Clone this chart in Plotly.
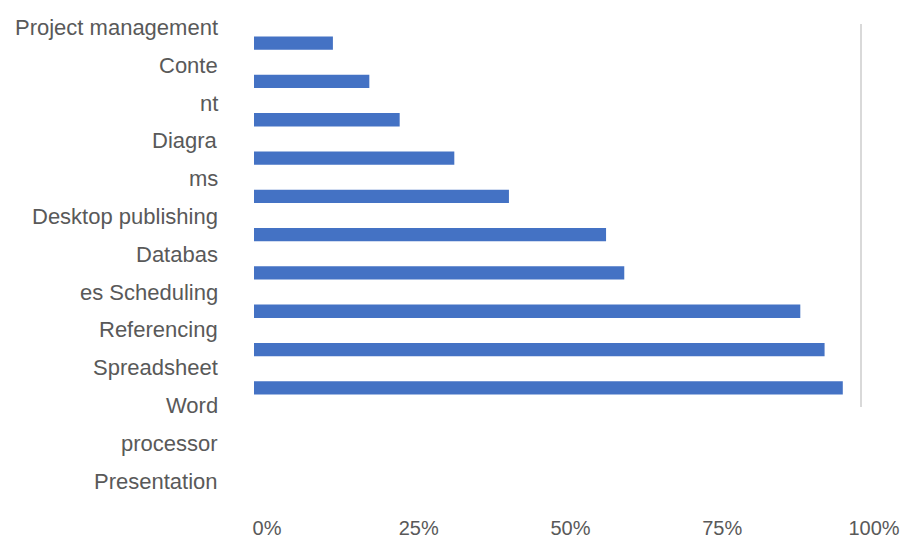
import plotly.graph_objects as go

categories = ["Project management", "Content", "Diagrams", "Desktop publishing",
              "Databases", "Scheduling", "Referencing", "Spreadsheet",
              "Word processor", "Presentation"]
values = [0.13, 0.19, 0.24, 0.33, 0.42, 0.58, 0.61, 0.90, 0.94, 0.97]

label_lines = ["Project management", "Conte", "nt", "Diagra", "ms",
               "Desktop publishing", "Databas", "es Scheduling", "Referencing",
               "Spreadsheet", "Word", "processor", "Presentation"]

tick_vals = [0, 0.25, 0.5, 0.75, 1.0]
tick_text = ["0%", "25%", "50%", "75%", "100%"]

W, H = 901, 539
ML, MR, MT, MB = 254, 40, 24, 132
plot_h = H - MT - MB
plot_w = W - ML - MR
text_color = "#595959"

fig = go.Figure()
fig.add_trace(go.Bar(
    y=categories, x=values, orientation="h",
    marker=dict(color="#4472C4", line=dict(width=0)),
    hoverinfo="x+y",
))

annotations = []
for i, line in enumerate(label_lines):
    y_px = 27.5 + i * 37.8
    annotations.append(dict(
        text=line, xref="paper", yref="paper",
        x=(220 - ML) / plot_w, y=(H - MB - y_px) / plot_h,
        xanchor="right", yanchor="middle", showarrow=False,
        font=dict(family="Liberation Sans, Arial, sans-serif", size=22, color=text_color),
    ))

fig.update_layout(
    width=W, height=H,
    margin=dict(l=ML, r=MR, t=MT, b=MB),
    paper_bgcolor="white", plot_bgcolor="white",
    showlegend=False,
    bargap=0.653,
    annotations=annotations,
    shapes=[dict(type="line", xref="paper", yref="paper", x0=1, x1=1, y0=0, y1=1,
                 line=dict(color="#d9d9d9", width=2))],
    xaxis=dict(range=[0, 1], tickvals=tick_vals, ticktext=tick_text,
               showgrid=False, zeroline=False, showline=False, ticks="",
               automargin=False,
               ticklabelstandoff=107, ticklabelshift=13,
               tickfont=dict(family="Liberation Sans, Arial, sans-serif", size=20, color=text_color)),
    yaxis=dict(autorange="reversed", showticklabels=False, showgrid=False,
               zeroline=False, showline=False, ticks="", automargin=False),
)

fig.write_html("out.html")
